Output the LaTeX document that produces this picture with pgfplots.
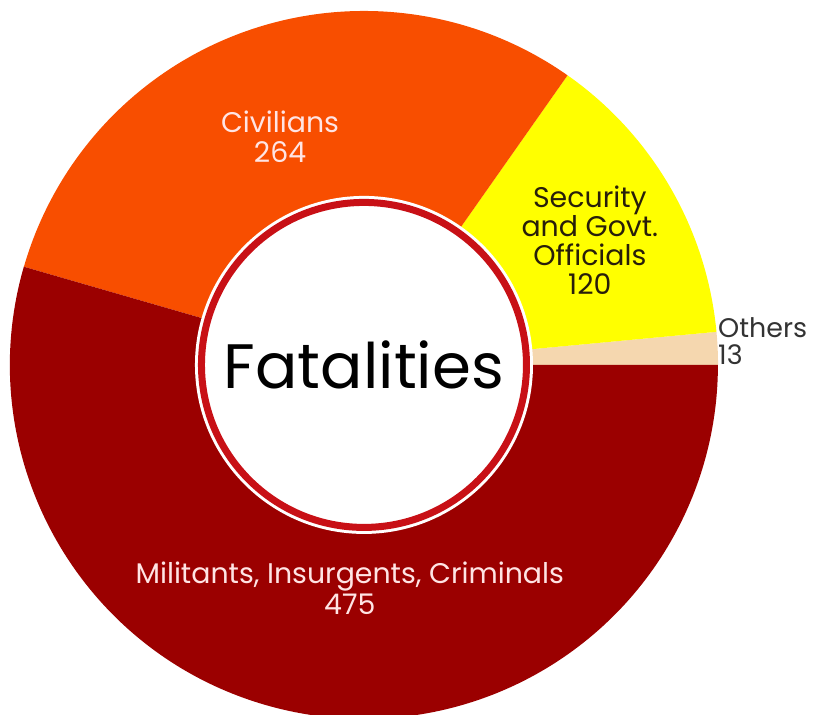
\documentclass[border=0pt]{standalone}
\usepackage{pgfplots}
\pgfplotsset{compat=1.18}
\usepackage{fontspec}
\setmainfont{Poppins}
\definecolor{mil}{RGB}{155,0,0}
\definecolor{civ}{RGB}{248,78,0}
\definecolor{sec}{RGB}{255,255,0}
\definecolor{oth}{RGB}{245,215,175}
\definecolor{ring}{RGB}{200,16,22}
\definecolor{lt}{RGB}{255,228,228}
\definecolor{dk}{RGB}{40,30,10}
\begin{document}
\begin{tikzpicture}
% values
\pgfmathsetmacro\vO{13}
\pgfmathsetmacro\vS{120}
\pgfmathsetmacro\vC{264}
\pgfmathsetmacro\vM{475}
\pgfmathsetmacro\total{\vO+\vS+\vC+\vM}
\pgfmathsetmacro\aA{\vO/\total*360}
\pgfmathsetmacro\aB{\aA+\vS/\total*360}
\pgfmathsetmacro\aC{\aB+\vC/\total*360}
\pgfmathsetmacro\xA{cos(\aA)}\pgfmathsetmacro\yA{sin(\aA)}
\pgfmathsetmacro\xB{cos(\aB)}\pgfmathsetmacro\yB{sin(\aB)}
\pgfmathsetmacro\xC{cos(\aC)}\pgfmathsetmacro\yC{sin(\aC)}
\def\R{354bp}
\begin{axis}[name=ax, hide axis, scale only axis, width=820bp, height=715bp,
  xmin=-1.028, xmax=1.288, ymin=-0.989, ymax=1.031, clip=false]
\fill[oth] (axis cs:0,0) -- (axis cs:1,0) arc[start angle=0, end angle=\aA, radius=\R] -- cycle;
\fill[sec] (axis cs:0,0) -- (axis cs:\xA,\yA) arc[start angle=\aA, end angle=\aB, radius=\R] -- cycle;
\fill[civ] (axis cs:0,0) -- (axis cs:\xB,\yB) arc[start angle=\aB, end angle=\aC, radius=\R] -- cycle;
\fill[mil] (axis cs:0,0) -- (axis cs:\xC,\yC) arc[start angle=\aC, end angle=360, radius=\R] -- cycle;
\fill[white] (axis cs:0,0) circle[radius=169bp];
\draw[ring, line width=7bp] (axis cs:0,0) circle[radius=162.5bp];
\node[black, font=\fontsize{63}{68}\selectfont] at (axis cs:0,0.0) {Fatalities};
\node[lt, align=center, font=\fontsize{28.5}{30}\selectfont] at (axis cs:-0.237,0.644) {Civilians\\264};
\node[dk, align=center, font=\fontsize{28.5}{29}\selectfont] at (axis cs:0.638,0.353) {Security\\and Govt.\\Officials\\120};
\node[black!80, align=left, anchor=west, inner sep=0pt, font=\fontsize{27}{27.5}\selectfont] at (axis cs:1.00,0.068) {Others\\13};
\node[lt, align=center, font=\fontsize{28.5}{31}\selectfont] at (axis cs:-0.04,-0.63) {Militants, Insurgents, Criminals\\475};
\end{axis}
\pgfresetboundingbox
\path[use as bounding box] (ax.south west) rectangle (ax.north east);
\end{tikzpicture}
\end{document}
